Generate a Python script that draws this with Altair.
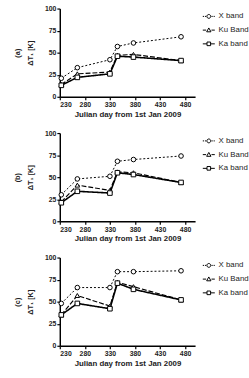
import altair as alt
import pandas as pd

days = [233, 265, 330, 345, 377, 472]
series = ["X band", "Ku Band", "Ka band"]
panels = ["(a)", "(b)", "(c)"]

a_x = [21, 33, 42, 57, 61, 68]
a_ku = [14, 26, 28, 47, 48, 41]
a_ka = [13, 22, 26, 46, 45, 41]

b_x = [30, 48, 51, 68, 70, 74]
b_ku = [22, 41, 35, 56, 55, 44]
b_ka = [21, 34, 32, 55, 53, 44]

c_x = [48, 66, 66, 84, 84, 85]
c_ku = [35, 57, 45, 72, 67, 52]
c_ka = [35, 48, 42, 71, 64, 52]

values = {"(a)": [a_x, a_ku, a_ka], "(b)": [b_x, b_ku, b_ka], "(c)": [c_x, c_ku, c_ka]}

styles = {
    "X band": dict(dash=[2, 2], width=1.0, shape="circle"),
    "Ku Band": dict(dash=[5, 2], width=1.2, shape="triangle-up"),
    "Ka band": dict(dash=[1, 0], width=1.6, shape="square"),
}

legend_paths = [
    "M-1,0L-0.8,0M-0.65,0L-0.45,0M0.45,0L0.65,0M0.8,0L1,0M0.32,0A0.32,0.32 0 1,1 -0.32,0A0.32,0.32 0 1,1 0.32,0Z",
    "M-1,0L-0.45,0M0.45,0L1,0M0,-0.36L0.36,0.28L-0.36,0.28Z",
    "M-1,0L-0.3,0M0.3,0L1,0M-0.3,-0.3L0.3,-0.3L0.3,0.3L-0.3,0.3Z",
]

FONT = "Liberation Sans"


def panel(label):
    rows = []
    for s, vals in zip(series, values[label]):
        for d, v in zip(days, vals):
            rows.append({"day": d, "value": v, "series": s})
    df = pd.DataFrame(rows)
    base = alt.Chart(df)
    xenc = alt.X("day:Q", scale=alt.Scale(domain=[230, 500], nice=False, zero=False),
                 axis=alt.Axis(values=[230, 280, 330, 380, 430, 480],
                               title="Julian day from 1st Jan 2009"))
    yenc = alt.Y("value:Q", scale=alt.Scale(domain=[0, 100], nice=False),
                 axis=alt.Axis(values=[0, 25, 50, 75, 100], title=[label, "ΔT₁ [K]"]))
    layers = []
    for s in series:
        st = styles[s]
        sub = base.transform_filter(alt.datum.series == s)
        layers.append(sub.mark_line(color="black", strokeDash=st["dash"], strokeWidth=st["width"]).encode(x=xenc, y=yenc))
    for s in series:
        st = styles[s]
        sub = base.transform_filter(alt.datum.series == s)
        layers.append(sub.mark_point(shape=st["shape"], filled=True, fill="white", stroke="black",
                                     strokeWidth=1, size=22, opacity=1).encode(x=xenc, y=yenc))
    leg = base.transform_filter(alt.datum.day < 0).mark_point(
        filled=False, color="black", strokeWidth=1, size=150
    ).encode(
        x=xenc, y=yenc,
        shape=alt.Shape("series:N", scale=alt.Scale(domain=series, range=legend_paths),
                        legend=alt.Legend(title=None, orient="none", legendX=145, legendY=1,
                                          symbolSize=150, symbolFillColor="white",
                                          symbolStrokeColor="black", symbolStrokeWidth=1,
                                          symbolOpacity=1,
                                          labelFont=FONT, labelFontSize=8, labelColor="#222",
                                          rowPadding=3, symbolOffset=0, labelOffset=3)),
    )
    layers.append(leg)
    return alt.layer(*layers).properties(width=138, height=90)


chart = alt.vconcat(*[panel(p) for p in panels], spacing=11).resolve_scale(
    shape="independent").resolve_legend(shape="independent").configure_view(stroke=None).configure_axis(
    domainColor="black", tickColor="black", domainWidth=1.5, tickWidth=1.2, tickSize=3, grid=False,
    labelFont=FONT, labelFontSize=7, labelFontWeight="bold", labelColor="#222", labelPadding=1,
    titleFont=FONT, titleFontSize=8, titleFontWeight="bold", titleColor="#222",
).configure_axisY(titleFontSize=7.5, titlePadding=10, titleLineHeight=13, titleFontWeight="bold").configure_axisX(titlePadding=3).properties(
    padding={"left": 14, "top": 1, "right": 0, "bottom": 0}
)

chart.save("out.html", embed_options={"renderer": "svg", "actions": False})
